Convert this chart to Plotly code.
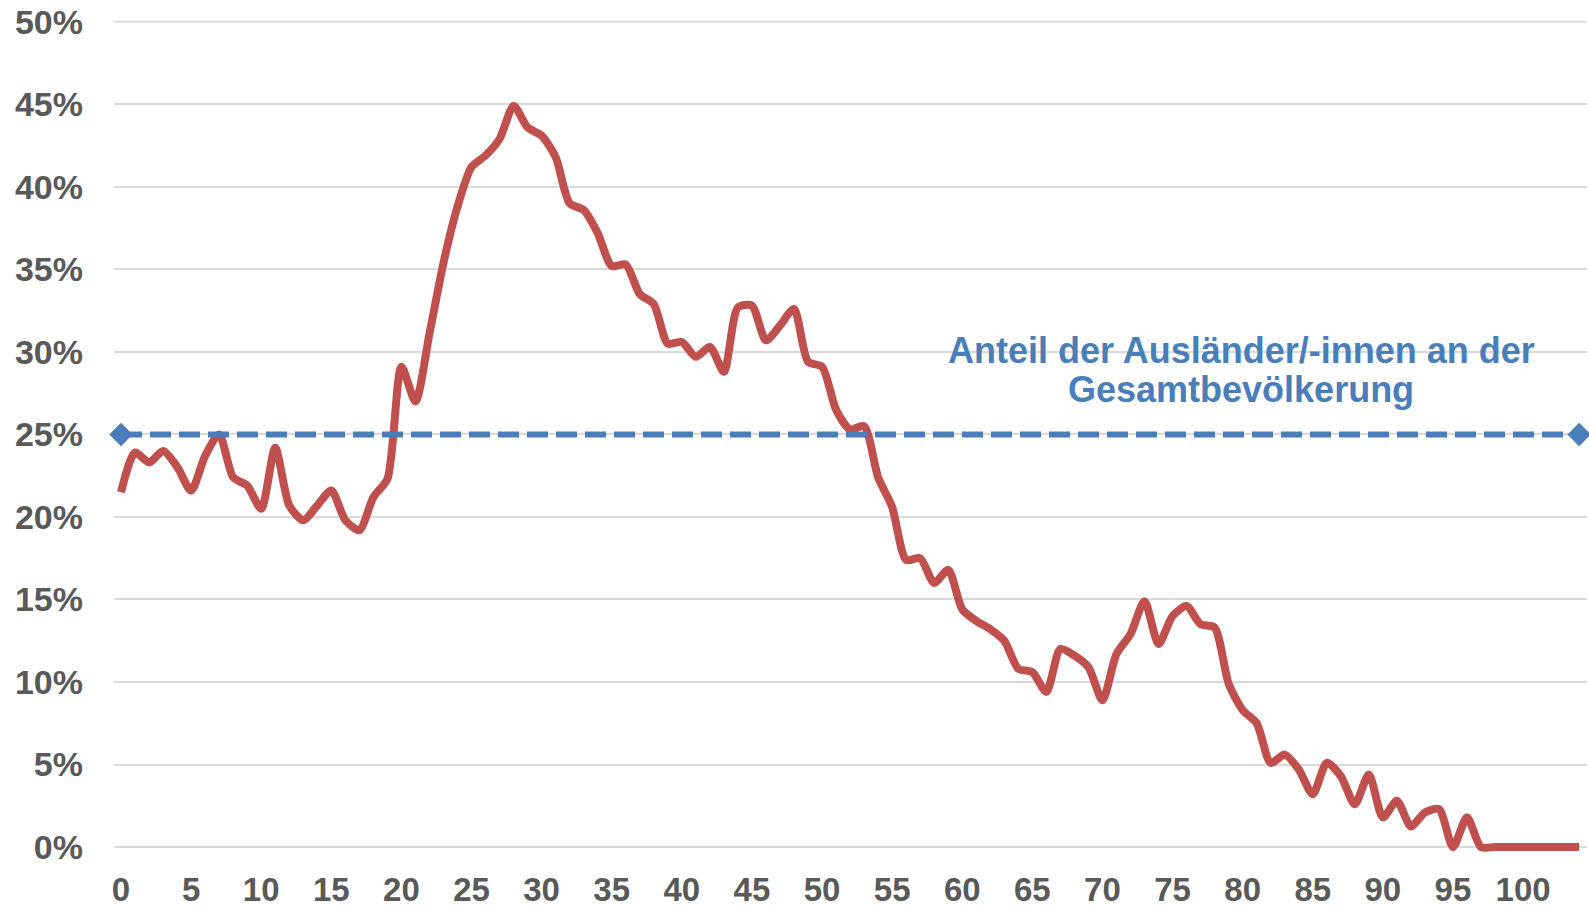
import plotly.graph_objects as go

ages = list(range(0, 105))
share_foreign = [
    21.5, 23.9, 23.3, 24.0, 23.05, 21.6, 23.7, 25.0, 22.4, 21.9,
    20.5, 24.2, 20.7, 19.8, 20.7, 21.6, 19.8, 19.2, 21.2, 22.3,
    29.1, 27.0, 31.1, 35.4, 38.8, 41.2, 41.9, 42.9, 44.9, 43.6,
    43.1, 41.8, 39.0, 38.6, 37.2, 35.2, 35.3, 33.5, 32.9, 30.5,
    30.6, 29.7, 30.3, 28.8, 32.7, 32.8, 30.7, 31.6, 32.6, 29.4,
    29.1, 26.5, 25.3, 25.5, 22.4, 20.6, 17.4, 17.5, 16.0, 16.8,
    14.4, 13.7, 13.2, 12.5, 10.8, 10.6, 9.4, 12.0, 11.6, 10.9,
    8.9, 11.7, 12.9, 14.9, 12.3, 14.0, 14.6, 13.5, 13.3, 9.9,
    8.3, 7.5, 5.1, 5.6, 4.7, 3.2, 5.1, 4.3, 2.6, 4.4,
    1.8, 2.8, 1.25, 2.1, 2.3, 0.0, 1.8, 0.0, 0.0, 0.0,
    0.0, 0.0, 0.0, 0.0, 0.0,
]
avg_x = [0, 104]
avg_share = [25.0, 25.0]
x_ticks = list(range(0, 101, 5))
y_ticks = list(range(0, 51, 5))
y_labels = [f"{v}%" for v in y_ticks]
note_lines = ["Anteil der Ausländer/-innen an der", "Gesamtbevölkerung"]

RED = "#C0504D"
BLUE = "#4A7EBB"
GREY = "#595959"
GRID = "#D9D9D9"
FONT = "Liberation Sans, Arial, sans-serif"

fig = go.Figure()
fig.add_trace(go.Scatter(
    x=ages, y=share_foreign, mode="lines",
    line=dict(color=RED, width=8, shape="spline", smoothing=0.7),
    cliponaxis=False, hoverinfo="skip", showlegend=False,
))
fig.add_trace(go.Scatter(
    x=avg_x, y=avg_share, mode="lines+markers",
    line=dict(color=BLUE, width=6, dash="21px,8px"),
    marker=dict(symbol="diamond", size=18, color=BLUE),
    cliponaxis=False, hoverinfo="skip", showlegend=False,
))

# top gridline (plotly drops the one at the range edge)
fig.add_shape(type="line", xref="paper", yref="y", x0=0, x1=1, y0=y_ticks[-1], y1=y_ticks[-1],
              line=dict(color=GRID, width=1.5), layer="below")

# white box behind the note (hides the gridline there)
fig.add_shape(type="rect", xref="x", yref="y", x0=54.0, x1=110, y0=27.0, y1=33.0,
              fillcolor="white", line=dict(width=0), layer="below")

for txt, yv in zip(note_lines, [30.1, 27.7]):
    fig.add_annotation(
        x=79.9, y=yv, xref="x", yref="y", xanchor="center", yanchor="middle",
        text=txt, showarrow=False,
        font=dict(family=FONT, size=36, color=BLUE, weight="bold"),
    )

fig.update_layout(
    width=1589, height=907,
    margin=dict(l=114, r=2, t=21, b=55),
    paper_bgcolor="white", plot_bgcolor="white",
    xaxis=dict(
        range=[-0.5, 104.56], tickvals=x_ticks, showgrid=False, zeroline=False,
        showline=False, ticks="", ticklabelstandoff=15, automargin=False,
        tickfont=dict(family=FONT, size=33, color=GREY, weight="bold"),
    ),
    yaxis=dict(
        range=[-0.3, 50.05], tickvals=y_ticks, ticktext=y_labels,
        showgrid=True, gridcolor=GRID, gridwidth=1.5, zeroline=False,
        showline=False, ticks="", ticklabelstandoff=30, automargin=False,
        tickfont=dict(family=FONT, size=34, color=GREY, weight="bold"),
    ),
)

fig.write_html("out.html", config={"displayModeBar": False},
               post_script="document.body.style.margin='0';")
